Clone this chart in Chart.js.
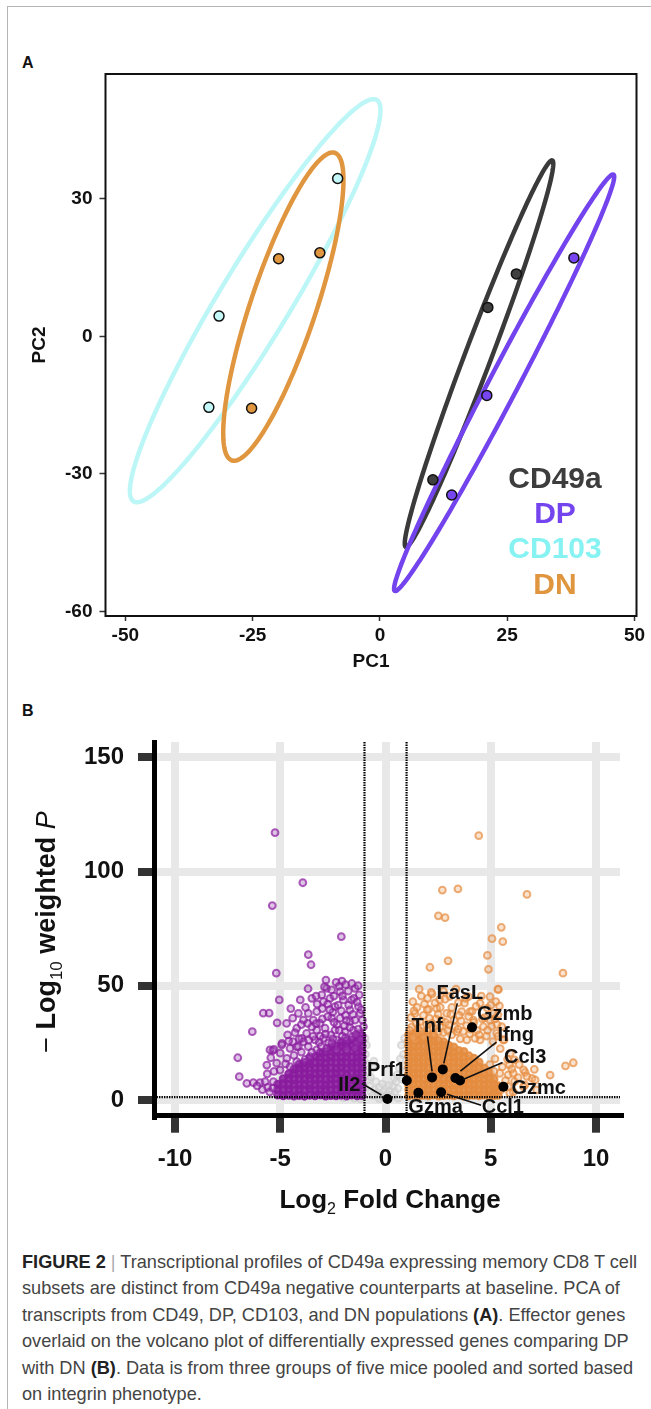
<!DOCTYPE html>
<html>
<head>
<meta charset="utf-8">
<script src="https://cdn.jsdelivr.net/npm/chart.js@4/dist/chart.umd.min.js"></script>
<style>
html, body { margin: 0; padding: 0; background: #fff; }
body { width: 651px; height: 1409px; position: relative; overflow: hidden; font-family: 'Liberation Sans', Arial, sans-serif; }
#frame { position: absolute; left: 7px; top: 6px; right: -2px; bottom: -2px; border-left: 1px solid #b5b5b5; border-top: 1px solid #b5b5b5; }
.panel { position: absolute; left: 22px; font-weight: bold; font-size: 16px; line-height: 16px; color: #111; }
canvas { position: absolute; left: 0; }
#caption { position: absolute; left: 22px; top: 1249px; font-family: 'Liberation Sans', Arial, sans-serif; font-size: 19px; line-height: 26.4px; color: #444; white-space: nowrap; transform-origin: left top; }
#caption b { color: #222; }
#caption .sep { color: #aaa; }
</style>
</head>
<body>
<div id="frame"></div>
<div class="panel" style="top:55px">A</div>
<div class="panel" style="top:703px">B</div>
<canvas id="pca" width="651" height="690" style="top:0"></canvas>
<canvas id="volcano" width="651" height="545" style="top:690px"></canvas>
<div id="caption">
<div><span id="capFirst"><b>FIGURE 2</b> <span class="sep">|</span> Transcriptional profiles of CD49a expressing memory CD8 T cell</span></div>
<div>subsets are distinct from CD49a negative counterparts at baseline. PCA of</div>
<div>transcripts from CD49, DP, CD103, and DN populations <b>(A)</b>. Effector genes</div>
<div>overlaid on the volcano plot of differentially expressed genes comparing DP</div>
<div>with DN <b>(B)</b>. Data is from three groups of five mice pooled and sorted based</div>
<div>on integrin phenotype.</div>
</div>
<script>
// narrow the caption so its first line spans the same width as in the figure
const capW = document.getElementById('capFirst').getBoundingClientRect().width;
document.getElementById('caption').style.transform = 'scaleX(' + (615 / capW) + ')';

Chart.defaults.font.family = "'Liberation Sans', Arial, sans-serif";
Chart.defaults.color = '#1a1a1a';

// ---------- panel A : PCA scores ----------
const pcGroups = ['CD49a', 'DP', 'CD103', 'DN'];
const pc1CD49a = [26.8, 21.2, 10.4];
const pc2CD49a = [13.6, 6.3, -31.3];
const pc1DP = [38.1, 21.0, 14.1];
const pc2DP = [17.1, -12.9, -34.6];
const pc1CD103 = [-8.3, -31.6, -33.6];
const pc2CD103 = [34.4, 4.4, -15.5];
const pc1DN = [-19.9, -11.8, -25.2];
const pc2DN = [16.9, 18.2, -15.7];
const pcTicksX = [-50, -25, 0, 25, 50];
const pcTicksY = [-60, -30, 0, 30];

const pcSeries = [[pc1CD49a, pc2CD49a], [pc1DP, pc2DP], [pc1CD103, pc2CD103], [pc1DN, pc2DN]];
const pcFill = ['#404040', '#7846f0', '#c4f7f7', '#e0953f'];
const pcLine = ['#3a3a3a', '#7343ee', '#bdf6f6', '#e0953f'];
const pcText = ['#3d3d3d', '#7444ee', '#86f2f2', '#e0953f'];
const ELLIPSE_K = 1.75;   // ellipse scale on the group covariance

const ellipsePlugin = {
  id: 'ellipses',
  beforeDatasetsDraw(chart) {
    const { ctx, scales: { x, y } } = chart;
    [2, 0, 3, 1].forEach(i => {
      const [xs, ys] = pcSeries[i];
      const n = xs.length;
      const mx = xs.reduce((a, b) => a + b) / n, my = ys.reduce((a, b) => a + b) / n;
      let sxx = 0, syy = 0, sxy = 0;
      for (let j = 0; j < n; j++) {
        const dx = xs[j] - mx, dy = ys[j] - my;
        sxx += dx * dx; syy += dy * dy; sxy += dx * dy;
      }
      sxx /= n - 1; syy /= n - 1; sxy /= n - 1;
      const a = Math.sqrt(sxx), b = sxy / a, c = Math.sqrt(syy - b * b);
      ctx.save();
      ctx.beginPath();
      for (let k = 0; k <= 160; k++) {
        const t = k / 160 * 2 * Math.PI;
        const u = Math.cos(t) * ELLIPSE_K, v = Math.sin(t) * ELLIPSE_K;
        const px = x.getPixelForValue(mx + a * u);
        const py = y.getPixelForValue(my + b * u + c * v);
        if (k === 0) ctx.moveTo(px, py); else ctx.lineTo(px, py);
      }
      ctx.closePath();
      ctx.lineWidth = 4.5;
      ctx.strokeStyle = pcLine[i];
      ctx.stroke();
      ctx.restore();
    });
  }
};

const pcBoxLegend = {
  id: 'pcBoxLegend',
  afterDraw(chart) {
    const { ctx, chartArea: ca } = chart;
    ctx.save();
    ctx.strokeStyle = '#111';
    ctx.lineWidth = 2;
    ctx.strokeRect(ca.left, ca.top, ca.right - ca.left, ca.bottom - ca.top);
    ctx.font = "bold 30px 'Liberation Sans', Arial, sans-serif";
    ctx.textAlign = 'center';
    ctx.textBaseline = 'middle';
    const rows = [480, 515, 550, 586];
    pcGroups.forEach((g, i) => {
      ctx.fillStyle = pcText[i];
      ctx.fillText(g, 555, rows[i]);
    });
    ctx.restore();
  }
};

new Chart(document.getElementById('pca'), {
  type: 'scatter',
  data: {
    datasets: pcGroups.map((g, i) => ({
      label: g,
      data: pcSeries[i][0].map((v, j) => ({ x: v, y: pcSeries[i][1][j] })),
      backgroundColor: pcFill[i],
      borderColor: '#111',
      borderWidth: 1.5,
      pointRadius: 5
    }))
  },
  options: {
    responsive: false,
    animation: false,
    layout: { padding: { top: 74, right: 14.5, left: 0, bottom: 0 } },
    plugins: { legend: { display: false }, tooltip: { enabled: false } },
    scales: {
      x: {
        min: -53.9, max: 50.4,
        afterFit: s => { s.height = 74; },
        afterBuildTicks: s => { s.ticks = pcTicksX.map(v => ({ value: v })); },
        grid: { drawOnChartArea: false, tickLength: 5, tickWidth: 1.5, tickColor: '#333' },
        border: { display: false },
        ticks: { font: { size: 19, weight: 'bold' }, color: '#111', padding: 3 },
        title: { display: true, text: 'PC1', font: { size: 19, weight: 'bold' }, color: '#111', padding: { top: 0, bottom: 17 } }
      },
      y: {
        min: -61.0, max: 57.2,
        afterFit: s => { s.width = 105.5; },
        afterBuildTicks: s => { s.ticks = pcTicksY.map(v => ({ value: v })); },
        grid: { drawOnChartArea: false, tickLength: 6, tickWidth: 1.5, tickColor: '#333' },
        border: { display: false },
        ticks: { font: { size: 19, weight: 'bold' }, color: '#111', padding: 7 },
        title: { display: true, text: 'PC2', font: { size: 19, weight: 'bold' }, color: '#111', padding: { top: 28, bottom: 0 } }
      }
    }
  },
  plugins: [ellipsePlugin, pcBoxLegend]
});

// ---------- panel B : volcano ----------
const volTicksX = [-10, -5, 0, 5, 10];
const volTicksY = [0, 50, 100, 150];
const fcCutoff = 1;
const pCutoff = 1.3;

const geneNames = ['Prf1', 'Tnf', 'FasL', 'Gzmb', 'Ifng', 'Ccl3', 'Gzmc', 'Gzma', 'Ccl1', 'Il2'];
const geneLog2FC = [1.01, 2.21, 2.72, 4.11, 3.32, 3.54, 5.60, 1.56, 2.64, 0.09];
const geneLogP = [8.5, 9.9, 13.4, 31.8, 9.6, 8.5, 5.8, 3.2, 3.4, 0.44];

// down in DP (purple): scattered genes
const downGenes = [
  [-5.25, 117.0], [-3.93, 95.1], [-5.38, 85.1], [-2.10, 71.5], [-3.67, 63.6], [-3.54, 59.2], [-5.19, 55.5],
  [-2.83, 52.5], [-2.07, 52.0], [-3.68, 48.7], [-5.05, 43.8], [-4.05, 43.8], [-1.45, 48.9], [-5.81, 38.0],
  [-5.53, 38.0], [-5.15, 33.8], [-6.33, 29.9], [-7.02, 18.5], [-6.95, 10.2], [-6.59, 7.3], [-6.28, 7.6],
  [-5.96, 7.6], [-5.64, 15.3], [-5.62, 11.4], [-4.65, 28.5], [-4.22, 23.3], [-5.36, 21.6], [-4.92, 24.8],
  [-3.03, 46.0], [-2.80, 48.9], [-2.56, 48.2], [-2.16, 47.4], [-1.77, 47.7], [-2.64, 44.5], [-2.00, 43.8],
  [-2.95, 43.1], [-2.40, 40.9], [-1.69, 39.4], [-3.27, 38.7], [-3.67, 37.9], [-4.14, 37.9], [-4.41, 35.8],
  [-3.90, 35.0], [-3.43, 35.0], [-3.11, 33.6], [-2.56, 35.8], [-2.16, 35.8], [-1.69, 34.3], [-1.45, 35.0],
  [-4.22, 31.4], [-3.75, 29.2], [-3.27, 30.6], [-2.87, 31.4], [-2.40, 30.6], [-1.92, 29.9], [-1.53, 30.6],
  [-1.13, 27.7], [-3.98, 27.0], [-3.35, 26.3], [-2.95, 27.0], [-2.32, 26.3], [-1.84, 26.3], [-1.37, 24.8],
  [-5.49, 21.9], [-5.30, 22.2], [-4.93, 24.1], [-4.54, 22.6], [-4.14, 23.4], [-3.67, 23.4], [-3.27, 21.9],
  [-2.80, 22.6], [-2.32, 21.9], [-1.84, 21.9], [-1.45, 22.6], [-5.17, 16.1], [-4.69, 18.2], [-4.22, 16.8],
  [-3.82, 17.8], [-3.59, 19.0], [-5.01, 13.1], [-4.54, 14.6], [-5.33, 8.0], [-5.72, 8.0], [-1.61, 43.8],
  [-1.29, 40.9], [-1.21, 37.9], [-1.05, 32.1], [-1.21, 29.2], [-2.50, 38.5], [-2.25, 41.5], [-1.90, 37.0],
  [-2.75, 36.5], [-3.00, 40.0], [-2.30, 33.0], [-1.95, 32.5], [-2.60, 28.5], [-3.50, 32.0], [-3.10, 28.0],
  [-1.60, 27.5], [-2.05, 28.0], [-2.70, 25.0], [-3.90, 25.5], [-4.40, 25.5], [-1.30, 31.0], [-1.75, 41.5],
  [-2.45, 45.5], [-1.90, 50.5], [-2.35, 51.5], [-1.50, 44.5], [-1.25, 46.0], [-3.25, 42.0], [-3.50, 44.5],
  [-4.00, 33.0], [-4.70, 33.5], [-4.50, 40.0],
  [-3.80, 40.5], [-3.30, 45.5], [-2.90, 49.5], [-2.20, 49.8], [-1.60, 51.0], [-1.30, 50.0], [-2.75, 42.0],
  [-2.10, 39.0], [-1.55, 37.5], [-1.10, 35.0], [-1.85, 34.8], [-2.45, 34.0], [-3.00, 35.5], [-3.70, 33.5],
  [-4.30, 29.5], [-3.45, 27.8], [-2.20, 30.5], [-1.70, 31.8], [-1.20, 26.5], [-2.50, 26.8], [-3.15, 25.2],
  [-3.65, 26.2], [-4.10, 26.8], [-4.60, 25.8], [-5.00, 20.5], [-4.75, 15.8], [-5.30, 12.5], [-5.45, 18.5],
  [-1.40, 28.6], [-1.90, 27.2], [-2.85, 28.8], [-3.30, 33.4], [-2.65, 39.5], [-2.05, 45.6], [-1.35, 42.8],
  [-1.15, 39.5], [-4.35, 19.5], [-4.00, 21.0], [-3.50, 20.8], [-3.05, 23.5], [-2.55, 24.9], [-5.60, 5.5],
  [-5.85, 4.5], [-6.10, 6.2], [-5.50, 3.5], [-5.35, 5.2]
];
// down in DP: the packed mass near the threshold, as columns of -log10 P
const downDense = [
  [-5.12, [2.2, 4.7, 6.9]],
  [-4.86, [1.9, 4.4, 7.1, 9.3]],
  [-4.60, [2.1, 4.6, 6.7, 9.5, 11.4]],
  [-4.35, [1.8, 4.2, 6.9, 9.0, 11.7, 13.5]],
  [-4.10, [2.0, 4.5, 6.6, 9.3, 11.5, 14.1, 15.7]],
  [-3.85, [1.7, 4.3, 6.8, 9.1, 11.8, 13.9, 16.4]],
  [-3.60, [2.1, 4.8, 6.5, 9.6, 11.2, 14.4, 16.1, 18.3]],
  [-3.35, [1.9, 4.1, 6.9, 9.0, 11.6, 13.8, 16.5, 18.9]],
  [-3.10, [2.2, 4.4, 6.7, 9.4, 11.5, 14.2, 16.3, 18.7, 20.7]],
  [-2.85, [1.8, 4.6, 6.6, 8.9, 11.8, 13.7, 16.2, 18.5, 21.1]],
  [-2.60, [2.0, 4.3, 7.0, 9.2, 11.4, 14.0, 16.7, 18.8, 21.4, 23.1]],
  [-2.35, [1.9, 4.5, 6.8, 9.5, 11.6, 13.9, 16.2, 19.0, 21.0, 23.7]],
  [-2.10, [2.1, 4.2, 6.9, 9.1, 11.9, 14.1, 16.5, 18.6, 21.3, 23.5, 25.4]],
  [-1.85, [1.8, 4.6, 6.5, 9.3, 11.3, 13.8, 16.4, 18.9, 20.9, 23.6, 25.9]],
  [-1.60, [2.2, 4.4, 7.1, 9.0, 11.7, 14.3, 16.1, 18.7, 21.4, 23.8, 26.3]],
  [-1.35, [1.9, 4.3, 6.7, 9.4, 11.5, 13.9, 16.6, 18.5, 21.1, 23.4, 26.0, 27.5]],
  [-1.12, [2.0, 4.5, 6.8, 9.2, 11.8, 14.0, 16.3, 18.9, 21.2, 23.7, 25.9, 28.1]]
];

// up in DP (orange): scattered genes
const upGenes = [
  [4.43, 115.7], [2.70, 91.9], [3.44, 92.4], [6.72, 90.0], [2.51, 80.6], [2.83, 79.8], [5.50, 75.6],
  [5.06, 70.6], [5.57, 69.3], [4.84, 63.3], [2.11, 58.1], [2.97, 60.9], [4.89, 57.2], [8.43, 55.5],
  [5.36, 48.3], [2.21, 46.4], [4.49, 42.3], [2.05, 39.7], [5.41, 41.2], [4.01, 38.7], [3.46, 42.6],
  [8.55, 14.9], [8.92, 16.3], [7.82, 10.9], [7.07, 13.4], [6.63, 12.1], [6.96, 9.5], [6.56, 13.2],
  [6.72, 10.3], [5.83, 11.0], [5.89, 15.4], [6.13, 17.6], [5.93, 20.5], [5.63, 26.3], [5.04, 32.2],
  [5.43, 11.7], [6.13, 8.1], [6.62, 6.6], [7.11, 8.8], [5.83, 5.9], [6.07, 11.7], [6.55, 5.8],
  [7.18, 4.4], [6.07, 3.6], [5.70, 8.5], [5.50, 4.5], [5.90, 3.0], [6.30, 9.8],
  [2.17, 47.1], [2.57, 43.9], [3.06, 45.3], [3.75, 42.4], [4.11, 38.8], [5.24, 43.1], [5.34, 48.5],
  [4.84, 40.2], [5.34, 37.3], [1.98, 39.5], [2.08, 35.8], [1.48, 29.3], [1.38, 26.3], [1.64, 34.3],
  [1.40, 37.9], [2.91, 37.9], [3.59, 34.6], [3.38, 29.9], [4.17, 35.0], [4.65, 32.1], [4.96, 35.0],
  [5.28, 29.2], [4.49, 26.3], [3.86, 26.3], [1.80, 27.7], [2.59, 32.1], [3.14, 28.5], [2.83, 44.1],
  [2.43, 40.1], [3.62, 38.7], [3.94, 45.2], [4.96, 45.2], [5.12, 37.9], [5.52, 32.1], [5.60, 26.3],
  [1.60, 48.5], [1.30, 43.0], [2.40, 35.5], [1.80, 37.0], [3.10, 37.5], [2.60, 40.5], [3.80, 44.5],
  [4.70, 36.0], [5.20, 35.5], [4.20, 34.0], [1.25, 32.0], [1.55, 31.0], [2.00, 30.5], [2.30, 29.0],
  [2.75, 29.5], [3.30, 32.0], [3.70, 30.0], [4.00, 29.0], [4.35, 30.5], [4.80, 28.0], [5.10, 25.5],
  [1.20, 36.0], [1.50, 40.5], [2.85, 34.0], [3.55, 26.8], [4.25, 27.0], [2.20, 33.5], [3.00, 32.8],
  [1.15, 30.5], [1.45, 33.5], [1.70, 30.0], [1.95, 33.0], [2.25, 31.5], [2.50, 29.8], [2.65, 34.8],
  [2.95, 30.5], [3.25, 35.0], [3.45, 31.0], [3.85, 32.5], [4.05, 31.0], [4.45, 28.5], [4.60, 35.5],
  [4.85, 30.5], [5.30, 33.0], [3.15, 40.5], [2.35, 42.5], [1.85, 42.0], [1.35, 39.0], [3.50, 37.0],
  [4.30, 41.0], [2.00, 44.5], [2.75, 47.5], [3.35, 48.5], [4.55, 45.5], [5.00, 41.5], [1.70, 45.5],
  [2.50, 37.5], [3.95, 36.5], [1.30, 27.5], [5.45, 22.5], [5.20, 18.0], [5.55, 14.5], [5.80, 17.8],
  [5.35, 28.0], [6.35, 15.5], [6.00, 13.6], [4.95, 15.5], [5.15, 12.5]
];
// up in DP: packed mass, as columns of -log10 P
const upDense = [
  [1.10, [1.9, 4.5, 6.6, 9.4, 11.5, 14.2, 16.3, 19.0, 21.1, 23.8, 25.9, 28.6]],
  [1.33, [2.2, 4.3, 7.0, 9.1, 11.8, 13.9, 16.6, 18.7, 21.4, 23.5, 26.2, 28.9]],
  [1.57, [1.8, 4.6, 6.7, 9.3, 11.6, 14.0, 16.5, 18.9, 21.2, 23.7, 26.0, 28.5]],
  [1.80, [2.1, 4.4, 6.9, 9.0, 11.7, 14.3, 16.2, 19.1, 21.0, 23.6, 26.3, 29.0]],
  [2.04, [1.9, 4.7, 6.6, 9.5, 11.4, 14.1, 16.7, 18.8, 21.5, 23.4, 26.1, 28.4]],
  [2.28, [2.2, 4.3, 7.1, 9.2, 11.9, 13.8, 16.4, 19.0, 21.1, 23.9, 25.8, 28.2]],
  [2.52, [1.8, 4.5, 6.8, 9.4, 11.5, 14.2, 16.3, 18.7, 21.4, 23.5, 26.0]],
  [2.76, [2.0, 4.6, 6.7, 9.1, 11.8, 14.0, 16.6, 18.9, 21.2, 23.8, 25.4]],
  [3.00, [2.1, 4.3, 7.0, 9.3, 11.6, 14.3, 16.2, 19.0, 21.3, 23.9]],
  [3.24, [1.9, 4.5, 6.6, 9.5, 11.4, 14.0, 16.5, 18.8, 21.0, 23.2]],
  [3.48, [2.2, 4.4, 6.9, 9.2, 11.7, 13.9, 16.6, 18.9, 21.6]],
  [3.72, [1.8, 4.7, 6.8, 9.0, 11.9, 14.2, 16.3, 19.0, 21.2]],
  [3.96, [2.0, 4.3, 7.1, 9.4, 11.5, 14.1, 16.7, 19.3]],
  [4.20, [2.1, 4.6, 6.7, 9.1, 11.8, 13.8, 16.2, 18.2]],
  [4.44, [1.9, 4.4, 6.9, 9.5, 11.6, 14.3, 16.6]],
  [4.68, [2.2, 4.5, 6.6, 9.2, 11.4, 14.0]],
  [4.92, [1.8, 4.3, 7.0, 9.4, 12.0]],
  [5.15, [2.0, 4.6, 6.8, 9.1]],
  [5.35, [2.1, 4.4, 6.2]]
];

// not significant (grey)
const nsGenes = [
  [-0.95, 20], [-0.90, 16], [-0.85, 12], [-0.80, 9], [-0.75, 6], [-0.70, 3.5], [-0.60, 2], [-0.50, 4.5],
  [-0.45, 8], [-0.35, 3], [-0.30, 5.5], [-0.20, 2], [-0.10, 3.5], [0.00, 1.5], [0.10, 2.5], [0.20, 4],
  [0.30, 2], [0.35, 6], [0.45, 3.5], [0.50, 8], [0.55, 11], [0.60, 5], [0.65, 14], [0.70, 18], [0.75, 24],
  [0.80, 9], [0.85, 20], [0.90, 27], [0.95, 15], [0.90, 12], [-0.60, 14], [-0.90, 24], [-0.97, 27],
  [-0.70, 10], [-0.55, 17], [0.40, 9.5], [0.15, 6.5], [-0.15, 7], [-1.50, 0.8], [-1.20, 0.5], [1.30, 0.7],
  [1.60, 0.4], [-2.00, 1.0], [2.00, 1.0], [-0.30, 0.6], [0.60, 0.8]
];

const toPts = arr => arr.map(([x, y]) => ({ x, y }));
const fromCols = cols => cols.flatMap(([x, ys]) => ys.map(y => ({ x, y })));

// where each gene label sits, relative to its point (pixels)
const labelLayout = {
  Prf1: { dx: -1, dy: -10, align: 'right' },
  Tnf: { dx: -5, dy: -51, align: 'center', line: [0, -6, -4.5, -41] },
  FasL: { dx: 17, dy: -76, align: 'center', line: [1, -6, 14.5, -66] },
  Gzmb: { dx: 5, dy: -13, align: 'left' },
  Ifng: { dx: 42, dy: -43, align: 'left', line: [5, -7, 41, -36] },
  Ccl3: { dx: 44, dy: -23, align: 'left', line: [3, -1, 42.5, -18] },
  Gzmc: { dx: 8, dy: 1.5, align: 'left' },
  Gzma: { dx: -10, dy: 14.6, align: 'left' },
  Ccl1: { dx: 40.6, dy: 15, align: 'left', line: [6, 2, 40, 13] },
  Il2: { dx: -27, dy: -14, align: 'right', line: [-25.5, -15.5, -6, -4] }
};

function drawRuns(ctx, runs, cx, cy) {
  let total = 0;
  runs.forEach(r => { ctx.font = r.font; r.w = ctx.measureText(r.text).width; total += r.w; });
  let x = cx - total / 2;
  ctx.textAlign = 'left';
  ctx.textBaseline = 'alphabetic';
  runs.forEach(r => { ctx.font = r.font; ctx.fillText(r.text, x, cy + (r.dy || 0)); x += r.w; });
}

const FF = "'Liberation Sans', Arial, sans-serif";

const volDecor = {
  id: 'volDecor',
  afterDatasetDraw(chart, args) {
    if (args.index !== 1) return;
    // cut-off lines, over the coloured clouds but under the effector genes
    const { ctx, chartArea: ca, scales: { x, y } } = chart;
    ctx.save();
    ctx.strokeStyle = '#000';
    ctx.lineWidth = 2.2;
    ctx.setLineDash([1.4, 1.1]);
    [-fcCutoff, fcCutoff].forEach(v => {
      const px = x.getPixelForValue(v);
      ctx.beginPath(); ctx.moveTo(px, ca.top); ctx.lineTo(px, ca.bottom); ctx.stroke();
    });
    const py = y.getPixelForValue(pCutoff);
    ctx.beginPath(); ctx.moveTo(ca.left, py); ctx.lineTo(ca.right, py); ctx.stroke();
    ctx.restore();
  },
  afterDraw(chart) {
    const { ctx, scales: { x, y } } = chart;
    ctx.save();
    ctx.fillStyle = '#111';
    ctx.strokeStyle = '#111';
    ctx.lineWidth = 1.6;
    ctx.font = 'bold 20px ' + FF;
    ctx.textBaseline = 'middle';
    geneNames.forEach((g, i) => {
      const px = x.getPixelForValue(geneLog2FC[i]);
      const py = y.getPixelForValue(geneLogP[i]);
      const L = labelLayout[g];
      if (L.line) {
        ctx.beginPath();
        ctx.moveTo(px + L.line[0], py + L.line[1]);
        ctx.lineTo(px + L.line[2], py + L.line[3]);
        ctx.stroke();
      }
      ctx.textAlign = L.align;
      ctx.fillText(g, px + L.dx, py + L.dy);
    });
    // axis titles
    drawRuns(ctx, [
      { text: 'Log', font: 'bold 26px ' + FF },
      { text: '2', font: '16px ' + FF, dy: 6 },
      { text: ' Fold Change', font: 'bold 26px ' + FF }
    ], 390, 518);
    ctx.translate(55, 242);
    ctx.rotate(-Math.PI / 2);
    drawRuns(ctx, [
      { text: '\u2212 ', font: '27px ' + FF },
      { text: 'Log', font: 'bold 27px ' + FF },
      { text: '10', font: '17px ' + FF, dy: 7 },
      { text: ' weighted ', font: 'bold 27px ' + FF },
      { text: 'P', font: 'italic 27px ' + FF }
    ], 0, 0);
    ctx.restore();
  }
};

const purpleSparse = { backgroundColor: 'rgba(165, 85, 185, 0.35)', borderColor: 'rgba(138, 28, 158, 0.7)' };
const purpleDense = { backgroundColor: 'rgba(138, 28, 158, 0.85)', borderColor: 'rgba(138, 28, 158, 0.85)' };
const orangeSparse = { backgroundColor: 'rgba(240, 175, 115, 0.35)', borderColor: 'rgba(229, 140, 64, 0.7)' };
const orangeDense = { backgroundColor: 'rgba(228, 140, 64, 0.85)', borderColor: 'rgba(228, 140, 64, 0.85)' };

new Chart(document.getElementById('volcano'), {
  type: 'scatter',
  data: {
    datasets: [
      {
        label: 'effector genes',
        data: geneLog2FC.map((v, i) => ({ x: v, y: geneLogP[i] })),
        backgroundColor: '#000',
        borderWidth: 0,
        pointRadius: 5
      },
      { label: 'up', data: toPts(upGenes), ...orangeSparse, borderWidth: 2, pointRadius: 3.4 },
      { label: 'up (packed)', data: fromCols(upDense), ...orangeDense, borderWidth: 2, pointRadius: 3.6 },
      { label: 'down', data: toPts(downGenes), ...purpleSparse, borderWidth: 2, pointRadius: 3.4 },
      { label: 'down (packed)', data: fromCols(downDense), ...purpleDense, borderWidth: 2, pointRadius: 3.6 },
      {
        label: 'ns',
        data: toPts(nsGenes),
        backgroundColor: 'rgba(215, 215, 215, 0.5)',
        borderColor: 'rgba(205, 205, 205, 0.6)',
        borderWidth: 2,
        pointRadius: 3.4
      }
    ]
  },
  options: {
    responsive: false,
    animation: false,
    layout: { padding: { top: 52, right: 31, left: 0, bottom: 0 } },
    plugins: { legend: { display: false }, tooltip: { enabled: false } },
    scales: {
      x: {
        min: -11.0, max: 11.14,
        afterFit: s => { s.height = 119.3; },
        afterBuildTicks: s => { s.ticks = volTicksX.map(v => ({ value: v })); },
        grid: { color: '#e8e8e8', lineWidth: 8, tickLength: 17, tickWidth: 8, tickColor: '#333' },
        border: { color: '#000', width: 5 },
        ticks: { font: { size: 24, weight: 'bold' }, color: '#111', padding: 12 }
      },
      y: {
        min: -6.87, max: 156.7,
        afterFit: s => { s.width = 154; },
        afterBuildTicks: s => { s.ticks = volTicksY.map(v => ({ value: v })); },
        grid: { color: '#e8e8e8', lineWidth: 8, tickLength: 16, tickWidth: 8, tickColor: '#333' },
        border: { color: '#000', width: 5 },
        ticks: { font: { size: 24, weight: 'bold' }, color: '#111', padding: 14 }
      }
    }
  },
  plugins: [volDecor]
});
</script>
</body>
</html>
